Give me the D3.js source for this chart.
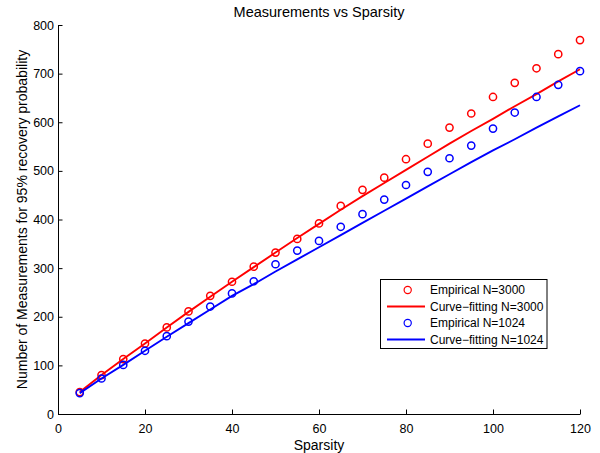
<!DOCTYPE html>
<html>
<head>
<meta charset="utf-8">
<script src="https://cdn.jsdelivr.net/npm/d3@7"></script>
<style>
  html, body { margin: 0; padding: 0; background: #fff; }
  svg { display: block; font-family: "Liberation Sans", Arial, Helvetica, sans-serif; }
</style>
</head>
<body>
<svg id="chart" width="600" height="453"></svg>
<script>
// ---- data ----
const sparsity = [5,10,15,20,25,30,35,40,45,50,55,60,65,70,75,80,85,90,95,100,105,110,115,120];
const empirical3000 = [45,80,113,145,178,211,243,272,303,332,360,392,428,461,486,524,556,589,618,652,681,711,740,769];
const fit3000      = [45,80,113,145,178,210,241,272,302,332,362,391,420,448,475,502,529,556,582,607,633,658,684,709];
const empirical1024 = [43,73,101,130,160,190,221,248,273,308,336,356,385,411,441,471,498,526,552,587,620,652,677,705];
const fit1024      = [43,73,101,130,159,187,215,243,267,293,318,343,368,393,418,443,468,493,518,542,565,589,612,635];
const xTicks = [0,20,40,60,80,100,120];
const yTicks = [0,100,200,300,400,500,600,700,800];
const legendLabels = ["Empirical N=3000", "Curve\u2212fitting N=3000", "Empirical N=1024", "Curve\u2212fitting N=1024"];
const titleText = "Measurements vs Sparsity";
const xLabel = "Sparsity";
const yLabel = "Number of Measurements for 95% recovery probability";

// ---- layout ----
const svg = d3.select("#chart");
const x = d3.scaleLinear().domain([0,120]).range([58,580]);
const y = d3.scaleLinear().domain([0,800]).range([414,25]);
const RED = "#ff0000", BLUE = "#0000ff";

// axes (ticks inward, no box)
const xAxis = d3.axisBottom(x).tickValues(xTicks).tickSizeInner(-4.5).tickSizeOuter(0).tickPadding(11);
const yAxis = d3.axisLeft(y).tickValues(yTicks).tickSizeInner(-4.5).tickSizeOuter(0).tickPadding(4);

const gx = svg.append("g").attr("transform", `translate(0,${y(0)})`).call(xAxis);
const gy = svg.append("g").attr("transform", `translate(${x(0)},0)`).call(yAxis);
[gx, gy].forEach(g => {
  g.selectAll("path.domain").attr("stroke", "#000").attr("stroke-width", 1);
  g.selectAll(".tick line").attr("stroke", "#000").attr("stroke-width", 1);
  g.selectAll(".tick text").attr("fill", "#000").style("font-size", "12.5px")
    .style("font-family", '"Liberation Sans", Arial, sans-serif');
});
gx.selectAll(".tick text").attr("dy", "0").attr("y", 19);

// series
const line = d3.line().x((d,i) => x(sparsity[i])).y(d => y(d));
function circles(vals, color) {
  svg.append("g").selectAll("circle").data(vals).join("circle")
    .attr("cx", (d,i) => x(sparsity[i])).attr("cy", d => y(d)).attr("r", 3.6)
    .attr("fill", "none").attr("stroke", color).attr("stroke-width", 1.5);
}
function path(vals, color) {
  svg.append("path").datum(vals).attr("d", line)
    .attr("fill", "none").attr("stroke", color).attr("stroke-width", 1.9);
}
circles(empirical3000, RED);
path(fit3000, RED);
circles(empirical1024, BLUE);
path(fit1024, BLUE);

// title & labels
svg.append("text").attr("x", 319).attr("y", 17).attr("text-anchor", "middle")
  .style("font-size", "14.5px").attr("fill", "#000").text(titleText);
svg.append("text").attr("x", 319).attr("y", 449.5).attr("text-anchor", "middle")
  .style("font-size", "14px").attr("fill", "#000").text(xLabel);
svg.append("text").attr("transform", `translate(27,219.5) rotate(-90)`).attr("text-anchor", "middle")
  .style("font-size", "14px").attr("fill", "#000").text(yLabel);

// legend
const lg = svg.append("g");
lg.append("rect").attr("x", 380.5).attr("y", 279.5).attr("width", 166.5).attr("height", 69)
  .attr("fill", "#fff").attr("stroke", "#000").attr("stroke-width", 1);
const rows = [
  {type: "marker", color: RED},
  {type: "line", color: RED},
  {type: "marker", color: BLUE},
  {type: "line", color: BLUE}
];
const rowY = [290, 306.5, 323, 339.5];
rows.forEach((r, i) => {
  const cy = rowY[i];
  if (r.type === "marker") {
    lg.append("circle").attr("cx", 407.7).attr("cy", cy).attr("r", 3.6)
      .attr("fill", "none").attr("stroke", r.color).attr("stroke-width", 1.2);
  } else {
    lg.append("line").attr("x1", 387).attr("x2", 425).attr("y1", cy).attr("y2", cy)
      .attr("stroke", r.color).attr("stroke-width", 1.9);
  }
  lg.append("text").attr("x", 430).attr("y", cy + 4.3).style("font-size", "12px")
    .attr("fill", "#000").text(legendLabels[i]);
});
</script>
</body>
</html>
